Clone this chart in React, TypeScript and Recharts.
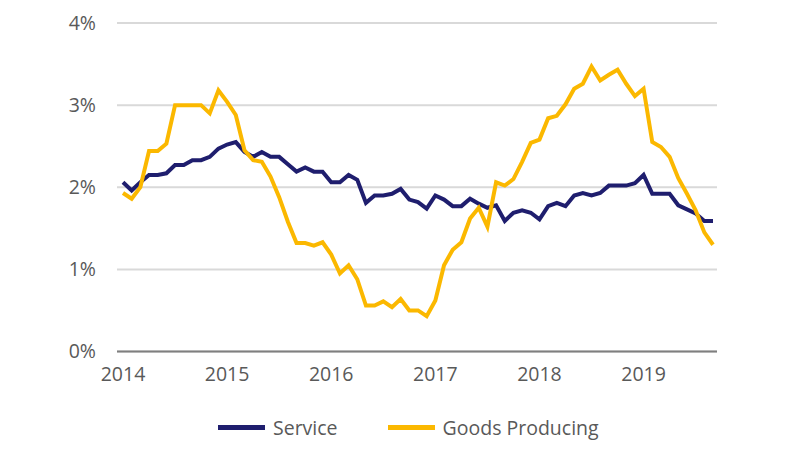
import { LineChart, Line, XAxis, YAxis, CartesianGrid } from "recharts";

// monthly observations, Jan 2014 - Sep 2019
const years = [2014, 2015, 2016, 2017, 2018, 2019];
const monthNums = ["01", "02", "03", "04", "05", "06", "07", "08", "09", "10", "11", "12"];

const service = [
    2.06, 1.96, 2.06, 2.15, 2.15, 2.17, 2.27, 2.27, 2.33, 2.33, 2.37, 2.47,
    2.52, 2.55, 2.43, 2.37, 2.43, 2.37, 2.37, 2.28, 2.19, 2.24, 2.19, 2.19,
    2.06, 2.06, 2.15, 2.09, 1.81, 1.9, 1.9, 1.92, 1.98, 1.85, 1.82, 1.74,
    1.9, 1.85, 1.77, 1.77, 1.86, 1.8, 1.75, 1.78, 1.59, 1.69, 1.72, 1.69,
    1.61, 1.77, 1.81, 1.77, 1.9, 1.93, 1.9, 1.93, 2.02, 2.02, 2.02, 2.05,
    2.15, 1.92, 1.92, 1.92, 1.78, 1.73, 1.68, 1.59, 1.59,
];

const goodsProducing = [
    1.93, 1.86, 2.0, 2.44, 2.44, 2.53, 3.0, 3.0, 3.0, 3.0, 2.9, 3.18,
    3.04, 2.88, 2.45, 2.33, 2.31, 2.13, 1.88, 1.58, 1.32, 1.32, 1.29, 1.33,
    1.18, 0.95, 1.05, 0.88, 0.56, 0.56, 0.61, 0.54, 0.64, 0.5, 0.5, 0.43,
    0.62, 1.05, 1.24, 1.33, 1.62, 1.75, 1.52, 2.06, 2.02, 2.1, 2.31, 2.54,
    2.58, 2.84, 2.87, 3.01, 3.2, 3.26, 3.47, 3.3, 3.37, 3.43, 3.26, 3.11,
    3.2, 2.55, 2.49, 2.37, 2.11, 1.92, 1.72, 1.45, 1.3,
];

const yTicks = [0, 1, 2, 3, 4];
const xTicks = years.map((y) => `${y}-01`);

const months = years.flatMap((y) => monthNums.map((m) => `${y}-${m}`)).slice(0, service.length);

const data = months.map((month, i) => ({
    month,
    service: service[i],
    goods: goodsProducing[i],
}));

const SERVICE_COLOR = "#1F1E6E";
const GOODS_COLOR = "#FBB800";
const TEXT_COLOR = "#595959";
const FONT = "'Open Sans', 'Noto Sans', sans-serif";
const FONT_SIZE = 19.5;

function LegendItem({ color, label, gap }: { color: string; label: string; gap: number }) {
    return (
        <div style={{ display: "flex", alignItems: "center", marginRight: gap }}>
            <div style={{ width: 47, height: 5, background: color, marginRight: 8 }} />
            <span>{label}</span>
        </div>
    );
}

export default function App() {
    return (
        <div style={{ position: "absolute", left: 0, top: 0, width: 800, height: 450, background: "#fff", fontFamily: FONT }}>
            <LineChart
                width={800}
                height={450}
                data={data}
                margin={{ top: 23, right: 83, bottom: 68.5, left: 0 }}
            >
                <CartesianGrid vertical={false} stroke="#D9D9D9" strokeWidth={2} />
                <XAxis
                    dataKey="month"
                    ticks={xTicks}
                    interval={0}
                    tickFormatter={(v: string) => v.slice(0, 4)}
                    tickLine={false}
                    tickSize={0}
                    tickMargin={16}
                    height={30}
                    padding={{ left: 6, right: 4 }}
                    axisLine={{ stroke: "#7F7F7F", strokeWidth: 2 }}
                    tick={{ fill: TEXT_COLOR, fontSize: FONT_SIZE, fontFamily: FONT }}
                />
                <YAxis
                    domain={[0, 4]}
                    ticks={yTicks}
                    tickFormatter={(v: number) => `${v}%`}
                    axisLine={false}
                    tickLine={false}
                    tickSize={0}
                    tickMargin={21}
                    width={117}
                    tick={{ fill: TEXT_COLOR, fontSize: FONT_SIZE, fontFamily: FONT }}
                />
                <Line
                    type="linear"
                    dataKey="service"
                    name="Service"
                    stroke={SERVICE_COLOR}
                    strokeWidth={4}
                    dot={false}
                    isAnimationActive={false}
                />
                <Line
                    type="linear"
                    dataKey="goods"
                    name="Goods Producing"
                    stroke={GOODS_COLOR}
                    strokeWidth={4}
                    dot={false}
                    isAnimationActive={false}
                />
            </LineChart>
            <div
                style={{
                    position: "absolute",
                    left: 218,
                    top: 415,
                    height: 24,
                    display: "flex",
                    alignItems: "center",
                    fontSize: FONT_SIZE,
                    color: TEXT_COLOR,
                }}
            >
                <LegendItem color={SERVICE_COLOR} label="Service" gap={50} />
                <LegendItem color={GOODS_COLOR} label="Goods Producing" gap={0} />
            </div>
        </div>
    );
}
